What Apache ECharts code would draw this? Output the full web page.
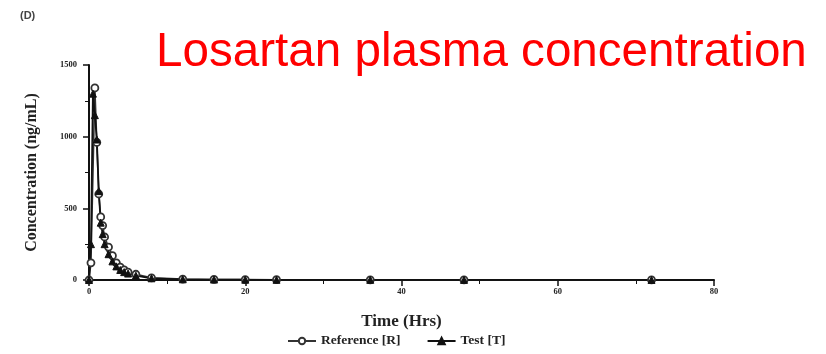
<!DOCTYPE html>
<html>
<head>
<meta charset="utf-8">
<script src="https://cdn.jsdelivr.net/npm/echarts@6/dist/echarts.min.js"></script>
<style>html,body{margin:0;padding:0;background:#fff;}#c{width:826px;height:354px;}</style>
</head>
<body>
<div id="c"></div>
<script>
// Data (time in hours, concentration in ng/mL)
const refTimes = [0, 0.25, 0.75, 1, 1.25, 1.5, 1.75, 2, 2.5, 3, 3.5, 4, 4.5, 5, 6, 8, 12, 16, 20, 24, 36, 48, 72];
const refConc  = [0, 120, 1340, 960, 600, 440, 380, 300, 230, 170, 120, 90, 70, 55, 40, 15, 6, 4, 3, 2, 1, 0.8, 0.5];
const testTimes = [0, 0.25, 0.5, 0.75, 1, 1.25, 1.5, 1.75, 2, 2.5, 3, 3.5, 4, 4.5, 5, 6, 8, 12, 16, 20, 24, 36, 48, 72];
const testConc  = [0, 250, 1300, 1150, 980, 620, 400, 320, 250, 180, 130, 95, 70, 55, 45, 30, 12, 5, 3, 2, 1.5, 1, 0.7, 0.4];
const xTicks = [0, 20, 40, 60, 80];
const yTicks = [0, 500, 1000, 1500];
const titleText = 'Losartan plasma concentration';
const panelLabel = '(D)';
const seriesNames = ['Reference [R]', 'Test [T]'];

const pairs = (xs, ys) => xs.map((x, i) => [x, ys[i]]);
const serif = '"Liberation Serif", "DejaVu Serif", serif';
const chart = echarts.init(document.getElementById('c'));
chart.setOption({
  animation: false,
  backgroundColor: '#fff',
  graphic: [
    { type: 'text', left: 20, top: 10, style: { text: panelLabel, font: 'bold 11px "Liberation Sans", Arial, sans-serif', fill: '#444' } },
    { type: 'text', x: 156, y: 53, style: { text: titleText, font: '47.6px "Liberation Sans", Arial, sans-serif', fill: '#ff0000', verticalAlign: 'middle' } }
  ],
  legend: {
    bottom: 1, left: 282, itemGap: 26, itemWidth: 28, itemHeight: 8,
    textStyle: { fontFamily: serif, fontSize: 13.5, fontWeight: 'bold', color: '#222' },
    data: seriesNames
  },
  grid: { left: 89, right: 112, top: 65, bottom: 74 },
  xAxis: {
    type: 'value', min: 0, max: 80, interval: 20,
    name: 'Time (Hrs)', nameLocation: 'middle', nameGap: 33,
    nameTextStyle: { fontFamily: serif, fontSize: 17, fontWeight: 'bold', color: '#222' },
    axisLine: { lineStyle: { color: '#111', width: 2 } },
    axisTick: { inside: false, length: 6, lineStyle: { color: '#111', width: 1.5 } },
    minorTick: { show: true, splitNumber: 2, length: 4, lineStyle: { color: '#111', width: 1 } },
    splitLine: { show: false },
    axisLabel: { fontFamily: serif, fontSize: 8.5, fontWeight: 'bold', color: '#222', margin: 7,
      customValues: xTicks }
  },
  yAxis: {
    type: 'value', min: 0, max: 1500, interval: 500,
    name: 'Concentration (ng/mL)', nameLocation: 'middle', nameGap: 49,
    nameTextStyle: { fontFamily: serif, fontSize: 16, fontWeight: 'bold', color: '#222' },
    axisLine: { show: true, lineStyle: { color: '#111', width: 2 } },
    axisTick: { show: true, length: 6, lineStyle: { color: '#111', width: 1.5 } },
    minorTick: { show: true, splitNumber: 2, length: 4, lineStyle: { color: '#111', width: 1 } },
    splitLine: { show: false },
    axisLabel: { fontFamily: serif, fontSize: 8.5, fontWeight: 'bold', color: '#222', margin: 12,
      customValues: yTicks, formatter: v => String(v) }
  },
  series: [
    {
      name: seriesNames[0], type: 'line', data: pairs(refTimes, refConc),
      symbol: 'circle', symbolSize: 7,
      itemStyle: { color: '#fff', borderColor: '#333', borderWidth: 1.8 },
      lineStyle: { color: '#333', width: 1.6 }
    },
    {
      name: seriesNames[1], type: 'line', data: pairs(testTimes, testConc),
      symbol: 'triangle', symbolSize: 7,
      itemStyle: { color: '#111', borderColor: '#111', borderWidth: 1 },
      lineStyle: { color: '#111', width: 1.8 }
    }
  ]
});
</script>
</body>
</html>
